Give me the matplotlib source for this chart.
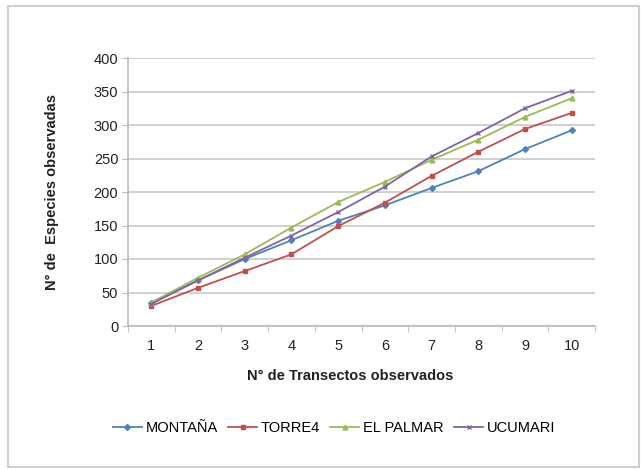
import matplotlib
matplotlib.use("Agg")
import matplotlib.pyplot as plt
from matplotlib.patches import Rectangle

transectos = [1, 2, 3, 4, 5, 6, 7, 8, 9, 10]
montana = [35, 68, 100, 128, 157, 180, 206, 231, 264, 292]
torre4 = [30, 57, 82, 107, 149, 184, 224, 260, 294, 318]
el_palmar = [35, 72, 107, 147, 185, 215, 248, 278, 312, 340]
ucumari = [33, 68, 102, 135, 170, 208, 253, 288, 325, 351]

series = [
    ("MONTAÑA", montana, "#4F81BD", "D", 3),
    ("TORRE4", torre4, "#C0504D", "s", 3.5),
    ("EL PALMAR", el_palmar, "#9BBB59", "^", 3.5),
    ("UCUMARI", ucumari, "#8064A2", "x", 3.5),
]

plt.rcParams["font.family"] = ["Liberation Sans", "DejaVu Sans"]
fs = 10.5

fig = plt.figure(figsize=(6.41, 4.69), dpi=100)
fig.patch.set_facecolor("white")
# outer chart border
fig.patches.append(Rectangle((8 / 641, 2 / 469), 631 / 641, 461 / 469,
                             transform=fig.transFigure, fill=False,
                             edgecolor="#cfcfcf", linewidth=1.5))

ax = fig.add_axes([128 / 641, 1 - 326 / 469, 467 / 641, 268 / 469])

for name, vals, color, marker, ms in series:
    ax.plot(transectos, vals, color=color, marker=marker, markersize=ms,
            linewidth=1.3, label=name)

ax.set_xlim(0.5, 10.5)
ax.set_ylim(0, 400)
ax.set_yticks(range(0, 401, 50))
ax.set_xticks(transectos)
ax.set_xticks([x + 0.5 for x in range(0, 11)], minor=True)
ax.tick_params(axis="x", which="major", length=0, pad=9, labelsize=fs,
               colors="#222222")
ax.tick_params(axis="x", which="minor", length=4, color="#bbbbbb")
ax.tick_params(axis="y", length=4, color="#bbbbbb", labelsize=fs,
               colors="#222222", pad=3)

ax.grid(axis="y", color="#c8c8c8", linewidth=1.2)
ax.set_axisbelow(True)
for side in ["top", "right"]:
    ax.spines[side].set_visible(False)
for side in ["left", "bottom"]:
    ax.spines[side].set_color("#bbbbbb")
    ax.spines[side].set_linewidth(1.2)

ax.set_xlabel("N° de Transectos observados", fontsize=fs, fontweight="bold",
              color="#222222")
ax.xaxis.set_label_coords(0.475, -43 / 268)
ax.set_ylabel("N° de  Especies observadas", fontsize=fs, fontweight="bold",
              labelpad=25, color="#222222")

fig.legend(loc="center", bbox_to_anchor=(334 / 641, 1 - 428 / 469), ncol=4,
           frameon=False, fontsize=fs, handlelength=2.0, columnspacing=0.7,
           handletextpad=0.25)

fig.savefig("out.png", dpi=100)
